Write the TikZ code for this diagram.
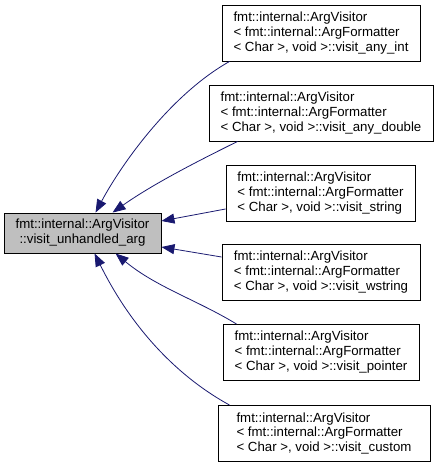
\documentclass[tikz,border=0pt]{standalone}
\usepackage{fontspec}
\setmainfont{Liberation Sans}
\usetikzlibrary{arrows.meta}
\definecolor{edgeblue}{HTML}{191970}
\definecolor{nodegray}{HTML}{BFBFBF}
\tikzset{
  box/.style={draw=black, line width=0.9bp, fill=white, align=left, inner xsep=8bp, inner ysep=4bp,
    minimum height=56bp, font=\fontsize{13.3}{15}\selectfont},
  mainbox/.style={box, fill=nodegray, align=center, minimum height=40bp},
  edge/.style={draw=edgeblue, line width=0.8bp, -{Triangle[length=13bp,width=10bp,fill=edgeblue]}}
}
\begin{document}
\begin{tikzpicture}[x=1bp,y=-1bp]
\useasboundingbox (0,0) rectangle (437,467);
\node[mainbox, minimum width=157bp] (L) at (82.5,233) {fmt::internal::ArgVisitor\\::visit\_unhandled\_arg};
\node[box, minimum width=198bp] (R1) at (321,33) {fmt::internal::ArgVisitor\\< fmt::internal::ArgFormatter\\< Char >, void >::visit\_any\_int};
\node[box, minimum width=224bp] (R2) at (321,113) {fmt::internal::ArgVisitor\\< fmt::internal::ArgFormatter\\< Char >, void >::visit\_any\_double};
\node[box, minimum width=189bp] (R3) at (320.5,193) {fmt::internal::ArgVisitor\\< fmt::internal::ArgFormatter\\< Char >, void >::visit\_string};
\node[box, minimum width=198bp] (R4) at (321,272.5) {fmt::internal::ArgVisitor\\< fmt::internal::ArgFormatter\\< Char >, void >::visit\_wstring};
\node[box, minimum width=196bp] (R5) at (321,352.5) {fmt::internal::ArgVisitor\\< fmt::internal::ArgFormatter\\< Char >, void >::visit\_pointer};
\node[box, minimum width=212bp] (R6) at (324,433.5) {fmt::internal::ArgVisitor\\< fmt::internal::ArgFormatter\\< Char >, void >::visit\_custom};

\draw[edge] ([xshift=8bp]R1.south west) .. controls (170,95) and (121,165) .. ([xshift=92bp]L.north west);
\draw[edge] ([xshift=29bp]R2.south west) .. controls (198,161) and (153,184) .. ([xshift=109bp]L.north west);
\draw[edge] ([yshift=-16bp]R3.west) -- ([yshift=12bp]L.east);
\draw[edge] ([yshift=15.5bp]R4.west) -- ([yshift=-14bp]L.east);
\draw[edge] ([xshift=14bp]R5.north west) .. controls (197,300) and (156,287) .. ([xshift=112bp]L.south west);
\draw[edge] ([xshift=12bp]R6.north west) .. controls (180,378) and (133,331) .. ([xshift=91bp]L.south west);
\end{tikzpicture}
\end{document}
